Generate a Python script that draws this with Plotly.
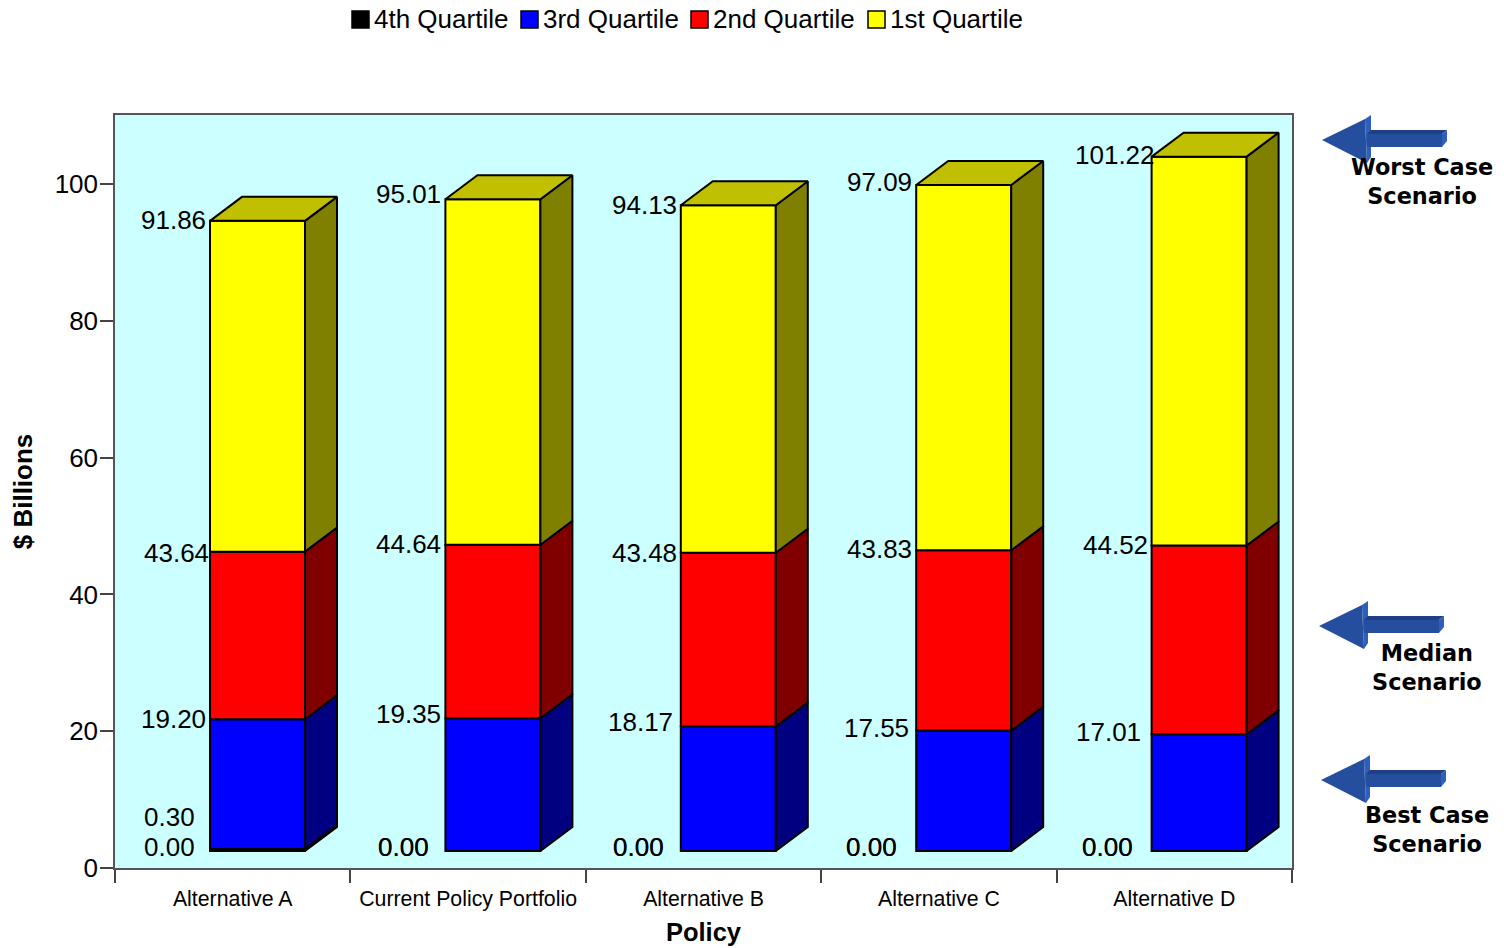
import plotly.graph_objects as go

# Cumulative quartile boundaries, $ billions
policies = ["Alternative A", "Current Policy Portfolio", "Alternative B", "Alternative C", "Alternative D"]
floor_values = [0.00, 0.00, 0.00, 0.00, 0.00]
q4_top = [0.30, 0.00, 0.00, 0.00, 0.00]
q3_top = [19.20, 19.35, 18.17, 17.55, 17.01]
q2_top = [43.64, 44.64, 43.48, 43.83, 44.52]
q1_top = [91.86, 95.01, 94.13, 97.09, 101.22]
quartile_names = ["4th Quartile", "3rd Quartile", "2nd Quartile", "1st Quartile"]
y_ticks = [0, 20, 40, 60, 80, 100]

# Page and plot-area geometry in pixels
W, H = 1510, 948
L, R, T, B = 115, 1292, 115, 868
FONT = "Liberation Sans"
HEAVY = "DejaVu Sans"


def px(x):
    return (x - L) / (R - L)


def py(y):
    return (B - y) / (B - T)


# Pseudo-3D bar geometry: the front plane sits on its own hidden value axis
SLOT_PX = (R - L) / 5
BAR_OFFSET = (210 - L) / SLOT_PX - 0.5
BAR_WIDTH = 95 / SLOT_PX
DEPTH_X = 32 / SLOT_PX
FRONT_SCALE = 6.86
DEPTH_Y = 24 / FRONT_SCALE

front_colors = ["#000000", "#0000FF", "#FF0000", "#FFFF00"]
side_colors = ["#000000", "#000080", "#800000", "#808000"]
TOP_COLOR = "#C0C000"
centers = [i + 0.5 for i in range(len(policies))]
boundaries = [floor_values, q4_top, q3_top, q2_top, q1_top]

fig = go.Figure()

# The visible value axis needs a trace of its own to be drawn
fig.add_trace(go.Scatter(
    x=centers, y=q1_top, mode="markers", marker=dict(opacity=0),
    hoverinfo="skip", showlegend=False,
))

# Front faces
for q, name in enumerate(quartile_names):
    low, high = boundaries[q], boundaries[q + 1]
    fig.add_trace(go.Bar(
        x=centers, y=[h - l for h, l in zip(high, low)], base=low, name=name,
        offset=BAR_OFFSET, width=BAR_WIDTH, yaxis="y2",
        marker=dict(color=front_colors[q], line=dict(color="black", width=2)),
        showlegend=False,
    ))

# Side faces and the cap
for q in range(4):
    low, high = boundaries[q], boundaries[q + 1]
    for c, a, b in zip(centers, low, high):
        if b <= a:
            continue
        x0 = c + BAR_OFFSET + BAR_WIDTH
        fig.add_trace(go.Scatter(
            x=[x0, x0 + DEPTH_X, x0 + DEPTH_X, x0, x0],
            y=[a, a + DEPTH_Y, b + DEPTH_Y, b, a],
            yaxis="y2", mode="lines", fill="toself", fillcolor=side_colors[q],
            line=dict(color="black", width=2), hoverinfo="skip", showlegend=False,
        ))
for c, v in zip(centers, q1_top):
    x0 = c + BAR_OFFSET
    x1 = x0 + BAR_WIDTH
    fig.add_trace(go.Scatter(
        x=[x0, x1, x1 + DEPTH_X, x0 + DEPTH_X, x0],
        y=[v, v, v + DEPTH_Y, v + DEPTH_Y, v],
        yaxis="y2", mode="lines", fill="toself", fillcolor=TOP_COLOR,
        line=dict(color="black", width=2), hoverinfo="skip", showlegend=False,
    ))

annotations = []

# Value labels beside each bar, nudged apart where they would collide
label_rows = [
    (floor_values, [-13, -14, -15, -17, -17], [4, 4, 4, 4, 4]),
    (q4_top, [-13, -14, -15, -17, -17], [32, 4, 4, 4, 4]),
    (q3_top, [-2, -2, -6, -5, -9], [0, 4, 4, 3, 2]),
    (q2_top, [1, -2, -2, -2, -2], [-1, 1, 0, 1, 1]),
    (q1_top, [-2, -2, -2, -2, 5], [1, 5, 0, 3, 2]),
]
for values, xs, ys in label_rows:
    for c, v, dx, dy in zip(centers, values, xs, ys):
        annotations.append(dict(
            x=c + BAR_OFFSET, y=v, xref="x", yref="y2", text=f"{v:.2f}", showarrow=False,
            xanchor="right", yanchor="middle", xshift=dx, yshift=dy,
            font=dict(family=FONT, size=26, color="black"),
        ))

# Legend row
shapes = []
legend_items = [(352, 374), (521, 543), (691, 713), (868, 890)]
for (box_x, text_x), name, color in zip(legend_items, quartile_names, front_colors):
    shapes.append(dict(
        type="rect", xref="paper", yref="paper",
        x0=px(box_x), x1=px(box_x + 17), y0=py(28), y1=py(11),
        fillcolor=color, line=dict(color="black", width=1.5),
    ))
    annotations.append(dict(
        x=px(text_x), y=py(19.5), xref="paper", yref="paper", text=name, showarrow=False,
        xanchor="left", yanchor="middle", xshift=-2,
        font=dict(family=FONT, size=26, color="black"),
    ))


def poly(points):
    return "M" + " L".join(f"{px(x):.5f},{py(y):.5f}" for x, y in points) + " Z"


def add_arrow(tx, ty):
    """Bevelled block arrow pointing left, with its tip at (tx, ty)."""
    faces = [
        ("#2F5FBE", [(43, -21), (49, -25), (49, 17), (45, 23)]),
        ("#254F9E", [(0, 0), (43, -21), (45, 23)]),
        ("#1F3F82", [(45, -6), (49, -10), (125, -10), (120, -6)]),
        ("#254F9E", [(45, -6), (120, -6), (120, 7), (45, 7)]),
        ("#2F5FBE", [(120, -6), (125, -10), (125, 1), (120, 7)]),
    ]
    for color, pts in faces:
        shapes.append(dict(
            type="path", xref="paper", yref="paper",
            path=poly([(tx + a, ty + b) for a, b in pts]),
            fillcolor=color, line=dict(width=0),
        ))


add_arrow(1322, 140)
add_arrow(1319, 626)
add_arrow(1321, 780)

# Two-line scenario captions beside the arrows
scenario_captions = [
    ("Worst Case", "Scenario", 1422, 181),
    ("Median", "Scenario", 1427, 667),
    ("Best Case", "Scenario", 1427, 829),
]
for first, second, x, y in scenario_captions:
    annotations.append(dict(
        x=px(x), y=py(y), xref="paper", yref="paper",
        text=f"{first}<br>{second}",
        showarrow=False, xanchor="center", yanchor="middle", align="center",
        font=dict(family=HEAVY, size=22.4, color="black", weight=700),
    ))

fig.update_layout(
    width=W, height=H, autosize=False,
    margin=dict(l=L, r=W - R, t=T, b=H - B, pad=0),
    paper_bgcolor="white", plot_bgcolor="#CCFFFF",
    barmode="overlay", showlegend=False,
    font=dict(family=FONT, color="black"),
    shapes=shapes, annotations=annotations,
    xaxis=dict(
        range=[0, 5], tickmode="array", tickvals=centers, ticktext=policies,
        ticks="outside", ticklen=11, tickcolor="rgba(0,0,0,0)",
        tickfont=dict(family=FONT, size=21.3),
        minor=dict(tickmode="array", tickvals=list(range(6)), ticks="outside",
                   ticklen=13, tickcolor="#444444", tickwidth=1.5, showgrid=False),
        showgrid=False, zeroline=False, showline=True, linecolor="#555555", linewidth=1.5, mirror=True,
        title=dict(text="<b>Policy</b>", font=dict(family=FONT, size=25.5), standoff=13),
        automargin=False,
    ),
    yaxis=dict(
        range=[0, (B - T) / 6.84], tickmode="array", tickvals=y_ticks,
        ticks="outside", ticklen=13, tickcolor="#444444", tickwidth=1.5,
        ticklabelstandoff=-3, tickfont=dict(family=FONT, size=26),
        showgrid=False, zeroline=False, showline=True, linecolor="#555555", linewidth=1.5, mirror=True,
        title=dict(text="<b>$ Billions</b>", font=dict(family=FONT, size=26), standoff=15),
        automargin=False,
    ),
    yaxis2=dict(
        overlaying="y", side="left", visible=False, showgrid=False, zeroline=False,
        range=[-(B - 851) / FRONT_SCALE, (851 - T) / FRONT_SCALE],
    ),
)

fig.write_html("out.html")
